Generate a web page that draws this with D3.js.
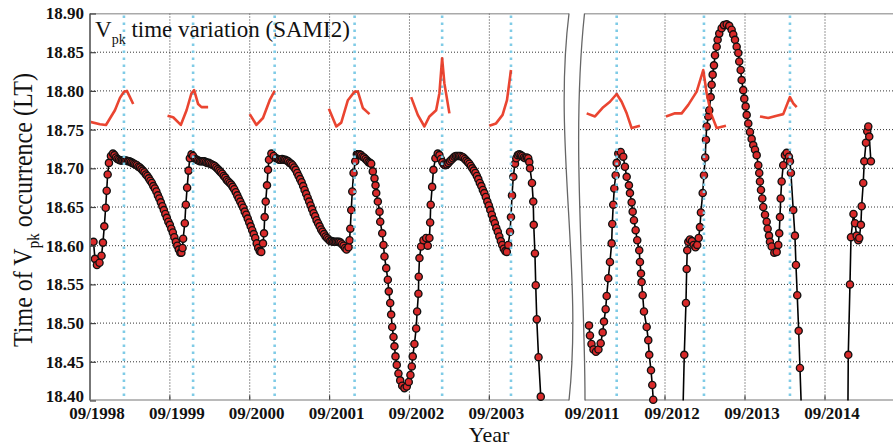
<!DOCTYPE html>
<html>
<head>
<meta charset="utf-8">
<script src="https://cdn.jsdelivr.net/npm/d3@7/dist/d3.min.js"></script>
<style>
body { margin: 0; background: #fff; }
svg text { font-family: "Liberation Serif", "Times New Roman", serif; fill: #111; }
</style>
</head>
<body>
<div id="chart"></div>
<script>
// ---- data ----
var yTickValues = [18.40, 18.45, 18.50, 18.55, 18.60, 18.65, 18.70, 18.75, 18.80, 18.85, 18.90];
var leftTickYears = [1998.667, 1999.667, 2000.667, 2001.667, 2002.667, 2003.667];
var leftTickLabels = ["09/1998", "09/1999", "09/2000", "09/2001", "09/2002", "09/2003"];
var rightTickYears = [2011.667, 2012.667, 2013.667, 2014.667];
var rightTickLabels = ["09/2011", "09/2012", "09/2013", "09/2014"];

// dotted blue markers (event dates)
var eventYears = [1999.092, 1999.958, 2000.979, 2001.980, 2003.076, 2003.938, 2012.063, 2013.154, 2014.229];

// SAMI2 Vpk time, [decimal year, LT]
var vpk1998to2004 = [
  [1998.711,18.605],[1998.729,18.583],[1998.754,18.575],[1998.786,18.578],[1998.811,18.587],[1998.829,18.604],
  [1998.846,18.625],[1998.863,18.649],[1998.876,18.671],[1998.888,18.692],[1998.904,18.707],[1998.929,18.716],
  [1998.954,18.719],[1998.973,18.717],[1998.992,18.714],[1999.010,18.712],[1999.029,18.711],[1999.048,18.710],
  [1999.067,18.710],[1999.085,18.710],[1999.104,18.710],[1999.123,18.710],[1999.142,18.709],[1999.160,18.709],
  [1999.179,18.708],[1999.198,18.707],[1999.217,18.706],[1999.235,18.705],[1999.254,18.704],[1999.273,18.702],
  [1999.292,18.701],[1999.310,18.699],[1999.329,18.697],[1999.348,18.695],[1999.367,18.692],[1999.385,18.690],
  [1999.404,18.687],[1999.423,18.684],[1999.442,18.681],[1999.460,18.677],[1999.479,18.674],[1999.498,18.670],
  [1999.517,18.665],[1999.535,18.661],[1999.554,18.656],[1999.573,18.651],[1999.592,18.646],[1999.610,18.641],
  [1999.629,18.636],[1999.648,18.631],[1999.667,18.627],[1999.685,18.622],[1999.704,18.617],[1999.723,18.611],
  [1999.742,18.605],[1999.760,18.600],[1999.779,18.595],[1999.798,18.591],[1999.811,18.591],[1999.826,18.597],
  [1999.833,18.609],[1999.854,18.629],[1999.867,18.653],[1999.883,18.675],[1999.901,18.697],[1999.917,18.713],
  [1999.938,18.718],[1999.958,18.716],[1999.986,18.712],[2000.004,18.711],[2000.023,18.710],[2000.042,18.709],
  [2000.061,18.709],[2000.079,18.709],[2000.098,18.709],[2000.117,18.708],[2000.136,18.707],[2000.154,18.707],
  [2000.173,18.706],[2000.192,18.705],[2000.211,18.704],[2000.229,18.703],[2000.248,18.701],[2000.267,18.699],
  [2000.286,18.697],[2000.304,18.695],[2000.323,18.693],[2000.342,18.690],[2000.361,18.688],[2000.379,18.685],
  [2000.398,18.683],[2000.417,18.681],[2000.436,18.679],[2000.454,18.676],[2000.473,18.673],[2000.492,18.669],
  [2000.511,18.665],[2000.529,18.661],[2000.548,18.657],[2000.567,18.653],[2000.586,18.649],[2000.604,18.644],
  [2000.623,18.640],[2000.642,18.635],[2000.661,18.630],[2000.679,18.625],[2000.698,18.620],[2000.717,18.615],
  [2000.736,18.610],[2000.754,18.603],[2000.773,18.597],[2000.792,18.593],[2000.811,18.592],
  [2000.833,18.603],[2000.846,18.616],[2000.854,18.637],[2000.867,18.657],[2000.883,18.678],[2000.896,18.698],
  [2000.908,18.711],[2000.938,18.719],[2000.967,18.716],[2000.998,18.713],[2001.017,18.712],[2001.036,18.711],
  [2001.054,18.711],[2001.073,18.712],[2001.092,18.711],[2001.111,18.711],[2001.129,18.710],[2001.148,18.709],
  [2001.167,18.707],[2001.186,18.706],[2001.204,18.704],[2001.223,18.701],[2001.242,18.698],[2001.261,18.694],
  [2001.279,18.690],[2001.298,18.686],[2001.317,18.682],[2001.336,18.677],[2001.354,18.672],[2001.373,18.667],
  [2001.392,18.662],[2001.411,18.657],[2001.429,18.652],[2001.448,18.647],[2001.467,18.642],[2001.486,18.638],
  [2001.504,18.633],[2001.523,18.629],[2001.542,18.625],[2001.561,18.621],[2001.579,18.618],[2001.598,18.615],
  [2001.617,18.612],[2001.636,18.610],[2001.654,18.608],[2001.673,18.606],[2001.692,18.606],[2001.711,18.605],
  [2001.729,18.605],[2001.748,18.605],[2001.767,18.605],[2001.786,18.605],[2001.804,18.604],[2001.823,18.602],
  [2001.842,18.600],[2001.861,18.597],[2001.879,18.595],[2001.904,18.598],[2001.917,18.607],
  [2001.926,18.622],[2001.938,18.646],[2001.951,18.670],[2001.967,18.694],[2001.988,18.709],[2002.008,18.718],
  [2002.023,18.718],[2002.042,18.718],[2002.061,18.717],[2002.079,18.715],[2002.098,18.714],[2002.117,18.712],
  [2002.136,18.710],[2002.154,18.708],[2002.173,18.707],[2002.188,18.706],[2002.208,18.696],[2002.229,18.687],
  [2002.242,18.678],[2002.251,18.668],[2002.271,18.657],[2002.292,18.644],[2002.301,18.631],[2002.326,18.616],
  [2002.342,18.601],[2002.354,18.586],[2002.376,18.571],[2002.396,18.556],[2002.408,18.541],[2002.426,18.526],
  [2002.438,18.511],[2002.451,18.495],[2002.467,18.482],[2002.479,18.470],[2002.492,18.457],[2002.508,18.446],
  [2002.529,18.435],[2002.551,18.426],[2002.576,18.419],[2002.604,18.416],[2002.633,18.418],[2002.658,18.424],
  [2002.679,18.433],[2002.696,18.444],[2002.708,18.457],[2002.729,18.473],[2002.751,18.493],[2002.763,18.515],
  [2002.779,18.538],[2002.783,18.560],[2002.792,18.584],[2002.813,18.599],[2002.842,18.607],[2002.876,18.610],
  [2002.896,18.600],[2002.917,18.610],[2002.926,18.630],[2002.933,18.653],[2002.951,18.676],[2002.967,18.698],
  [2002.992,18.713],[2003.021,18.719],[2003.042,18.717],[2003.061,18.712],[2003.079,18.708],[2003.098,18.705],
  [2003.117,18.704],[2003.136,18.705],[2003.154,18.707],[2003.173,18.709],[2003.192,18.711],[2003.211,18.713],
  [2003.229,18.715],[2003.248,18.716],[2003.267,18.716],[2003.286,18.716],[2003.304,18.716],[2003.323,18.715],
  [2003.342,18.714],[2003.361,18.712],[2003.379,18.710],[2003.398,18.708],[2003.417,18.706],[2003.436,18.703],
  [2003.454,18.700],[2003.473,18.697],[2003.492,18.694],[2003.511,18.690],[2003.529,18.686],[2003.548,18.681],
  [2003.567,18.677],[2003.586,18.672],[2003.604,18.668],[2003.623,18.663],[2003.642,18.657],[2003.661,18.652],
  [2003.679,18.646],[2003.698,18.640],[2003.717,18.634],[2003.736,18.629],[2003.754,18.623],[2003.773,18.618],
  [2003.792,18.612],[2003.811,18.606],[2003.829,18.601],[2003.848,18.596],[2003.867,18.593],[2003.886,18.592],
  [2003.904,18.601],[2003.926,18.618],[2003.938,18.637],[2003.951,18.665],[2003.967,18.689],[2003.988,18.706],
  [2004.004,18.713],[2004.023,18.717],[2004.042,18.718],[2004.061,18.717],[2004.079,18.716],[2004.098,18.714],
  [2004.117,18.713],[2004.136,18.714],[2004.154,18.713],[2004.167,18.708],[2004.176,18.700],[2004.201,18.681],
  [2004.217,18.657],[2004.223,18.627],[2004.238,18.590],[2004.248,18.549],[2004.261,18.505],[2004.283,18.456],
  [2004.311,18.405],[2004.342,18.340]
];

var vpk2011to2015 = [
  [2011.717,18.497],[2011.729,18.484],[2011.748,18.473],[2011.773,18.466],[2011.804,18.463],[2011.835,18.466],
  [2011.863,18.474],[2011.888,18.488],[2011.904,18.502],[2011.925,18.518],[2011.938,18.535],[2011.958,18.558],
  [2011.979,18.579],[2012.000,18.603],[2012.008,18.628],[2012.020,18.653],[2012.033,18.674],[2012.050,18.691],
  [2012.063,18.707],[2012.083,18.719],[2012.113,18.721],[2012.145,18.715],[2012.166,18.702],[2012.188,18.689],
  [2012.216,18.678],[2012.229,18.668],[2012.250,18.656],[2012.263,18.644],[2012.279,18.633],[2012.300,18.620],
  [2012.320,18.607],[2012.345,18.594],[2012.354,18.579],[2012.367,18.564],[2012.375,18.553],[2012.388,18.536],
  [2012.404,18.515],[2012.438,18.495],[2012.458,18.478],[2012.470,18.459],[2012.492,18.439],[2012.508,18.420],
  [2012.520,18.401],[2012.554,18.330],[2012.704,18.050],[2012.804,18.000],[2012.908,18.459],[2012.929,18.526],
  [2012.938,18.570],[2012.945,18.594],[2012.958,18.605],[2012.979,18.608],[2013.004,18.606],[2013.025,18.601],
  [2013.048,18.598],[2013.070,18.601],[2013.088,18.610],[2013.104,18.624],[2013.116,18.643],[2013.138,18.668],
  [2013.154,18.691],[2013.170,18.714],[2013.179,18.737],[2013.188,18.754],[2013.208,18.767],[2013.220,18.775],
  [2013.238,18.792],[2013.250,18.808],[2013.263,18.821],[2013.279,18.833],[2013.292,18.846],[2013.313,18.857],
  [2013.325,18.866],[2013.345,18.874],[2013.375,18.881],[2013.404,18.885],[2013.438,18.886],[2013.470,18.884],
  [2013.500,18.879],[2013.520,18.873],[2013.542,18.866],[2013.563,18.857],[2013.583,18.849],[2013.595,18.838],
  [2013.613,18.827],[2013.625,18.814],[2013.645,18.801],[2013.658,18.790],[2013.675,18.780],[2013.688,18.769],
  [2013.708,18.758],[2013.729,18.747],[2013.750,18.738],[2013.770,18.730],[2013.792,18.724],[2013.813,18.717],
  [2013.833,18.704],[2013.845,18.694],[2013.854,18.683],[2013.867,18.672],[2013.883,18.661],[2013.895,18.650],
  [2013.917,18.640],[2013.938,18.631],[2013.950,18.622],[2013.967,18.613],[2013.979,18.605],[2014.000,18.599],
  [2014.033,18.591],[2014.063,18.592],[2014.083,18.601],[2014.095,18.616],[2014.104,18.637],[2014.113,18.661],
  [2014.125,18.683],[2014.145,18.704],[2014.166,18.717],[2014.188,18.720],[2014.216,18.715],[2014.229,18.709],
  [2014.241,18.694],[2014.270,18.646],[2014.291,18.613],[2014.304,18.575],[2014.320,18.536],[2014.338,18.490],
  [2014.354,18.442],[2014.391,18.330],[2014.666,18.000],[2014.929,18.000],[2014.958,18.459],[2014.979,18.550],
  [2014.992,18.611],[2015.023,18.641],[2015.042,18.629],[2015.063,18.613],[2015.083,18.607],[2015.095,18.610],
  [2015.116,18.627],[2015.125,18.651],[2015.145,18.681],[2015.158,18.709],[2015.179,18.733],[2015.195,18.748],
  [2015.208,18.754],[2015.220,18.741],[2015.241,18.709]
];

// red short curves around each event
var red1999 = [[1998.667,18.760],[1998.792,18.757],[1998.867,18.756],[1998.979,18.775],[1999.042,18.791],[1999.092,18.799],[1999.129,18.800],[1999.167,18.792],[1999.208,18.783]];
var red2000 = [[1999.638,18.768],[1999.708,18.766],[1999.804,18.756],[1999.876,18.775],[1999.938,18.797],[1999.971,18.801],[2000.021,18.783],[2000.063,18.779],[2000.146,18.779]];
var red2001 = [[2000.667,18.770],[2000.751,18.756],[2000.833,18.765],[2000.917,18.788],[2000.979,18.800]];
var red2002 = [[2001.658,18.777],[2001.751,18.754],[2001.813,18.759],[2001.896,18.788],[2001.980,18.799],[2002.021,18.799],[2002.083,18.778],[2002.167,18.770]];
var red2003 = [[2002.688,18.792],[2002.771,18.769],[2002.854,18.754],[2002.917,18.767],[2003.001,18.775],[2003.042,18.797],[2003.076,18.842],[2003.104,18.810],[2003.167,18.771]];
var red2004 = [[2003.667,18.755],[2003.751,18.758],[2003.833,18.769],[2003.888,18.788],[2003.938,18.827]];
var red2012 = [[2011.688,18.771],[2011.792,18.767],[2011.895,18.779],[2011.979,18.786],[2012.063,18.796],[2012.125,18.786],[2012.188,18.771],[2012.250,18.752],[2012.354,18.755]];
var red2013 = [[2012.679,18.767],[2012.792,18.771],[2012.875,18.771],[2012.958,18.782],[2013.063,18.799],[2013.145,18.827],[2013.188,18.797],[2013.242,18.771],[2013.313,18.752],[2013.429,18.755]];
var red2014 = [[2013.854,18.767],[2013.958,18.765],[2014.063,18.768],[2014.145,18.770],[2014.229,18.792],[2014.270,18.784],[2014.313,18.779]];

// ---- layout ----
var width = 893, height = 447;
var plotTop = 13.5, plotBottom = 400.5;
var serif = '"Liberation Serif", "Times New Roman", serif';

var y = d3.scaleLinear().domain([18.40, 18.90]).range([plotBottom, plotTop]);

var panels = [
  {
    id: 'left',
    x: d3.scaleLinear().domain([1998.667, 2004.667]).range([90, 569.2]),
    ticks: leftTickYears, labels: leftTickLabels,
    model: vpk1998to2004,
    reds: [red1999, red2000, red2001, red2002, red2003, red2004],
    clip: 'M90,' + plotTop + ' L569,' + plotTop + ' C553,142 583,272 569,' + plotBottom + ' L90,' + plotBottom + 'Z'
  },
  {
    id: 'right',
    x: d3.scaleLinear().domain([2011.667, 2015.517]).range([585, 893]),
    ticks: rightTickYears, labels: rightTickLabels,
    model: vpk2011to2015,
    reds: [red2012, red2013, red2014],
    clip: 'M584.5,' + plotTop + ' L900,' + plotTop + ' L900,' + plotBottom + ' L585,' + plotBottom + ' C585,272 571,142 584.5,' + plotTop + 'Z'
  }
];

var svg = d3.select('#chart').append('svg')
  .attr('width', width)
  .attr('height', height);

svg.append('rect').attr('width', width).attr('height', height).attr('fill', '#fff');

var defs = svg.append('defs');

panels.forEach(function (p) {
  defs.append('clipPath').attr('id', 'clip-' + p.id)
    .append('path').attr('d', p.clip);

  var r = p.x.range();
  var g = svg.append('g').attr('clip-path', 'url(#clip-' + p.id + ')');

  // horizontal grid
  g.selectAll('line.hgrid')
    .data(yTickValues.slice(1, -1))
    .enter().append('line')
    .attr('class', 'hgrid')
    .attr('x1', r[0] - 20).attr('x2', r[1] + 20)
    .attr('y1', function (d) { return y(d); })
    .attr('y2', function (d) { return y(d); })
    .attr('stroke', '#333').attr('stroke-width', 1)
    .attr('stroke-dasharray', '1,2');

  // vertical grid
  g.selectAll('line.vgrid')
    .data(p.ticks.slice(1))
    .enter().append('line')
    .attr('class', 'vgrid')
    .attr('x1', function (d) { return p.x(d); })
    .attr('x2', function (d) { return p.x(d); })
    .attr('y1', plotTop).attr('y2', plotBottom)
    .attr('stroke', '#333').attr('stroke-width', 1)
    .attr('stroke-dasharray', '1,2');

  // x ticks (inward)
  g.selectAll('line.xtick')
    .data(p.ticks.slice(1))
    .enter().append('line')
    .attr('x1', function (d) { return p.x(d); })
    .attr('x2', function (d) { return p.x(d); })
    .attr('y1', plotBottom).attr('y2', plotBottom - 5)
    .attr('stroke', '#444').attr('stroke-width', 1.2);

  // frame: top and bottom
  g.append('line')
    .attr('x1', r[0] - 20).attr('x2', r[1] + 20)
    .attr('y1', plotTop).attr('y2', plotTop)
    .attr('stroke', '#555').attr('stroke-width', 1.4);
  g.append('line')
    .attr('x1', r[0] - 20).attr('x2', r[1] + 20)
    .attr('y1', plotBottom).attr('y2', plotBottom)
    .attr('stroke', '#777').attr('stroke-width', 2);

  // model line
  var line = d3.line()
    .x(function (d) { return p.x(d[0]); })
    .y(function (d) { return y(d[1]); });

  g.append('path')
    .datum(p.model)
    .attr('d', line)
    .attr('fill', 'none')
    .attr('stroke', '#000')
    .attr('stroke-width', 1.6);

  // markers (only those inside the axis range)
  svg.append('g').selectAll('circle')
    .data(p.model.filter(function (d) { return d[1] >= 18.40 && d[1] <= 18.90; }))
    .enter().append('circle')
    .attr('cx', function (d) { return p.x(d[0]); })
    .attr('cy', function (d) { return y(d[1]); })
    .attr('r', 3.6)
    .attr('fill', '#d92a2a')
    .attr('stroke', '#111')
    .attr('stroke-width', 1.35);

  // event markers + red curves on top
  var gTop = svg.append('g').attr('clip-path', 'url(#clip-' + p.id + ')');
  gTop.selectAll('line.event')
    .data(eventYears.filter(function (d) { return d >= p.x.domain()[0] && d <= p.x.domain()[1]; }))
    .enter().append('line')
    .attr('class', 'event')
    .attr('x1', function (d) { return p.x(d); })
    .attr('x2', function (d) { return p.x(d); })
    .attr('y1', plotTop + 2).attr('y2', plotBottom)
    .attr('stroke', '#7fcbe6')
    .attr('stroke-width', 2.6)
    .attr('stroke-dasharray', '2.4,4.6');

  gTop.selectAll('path.red')
    .data(p.reds)
    .enter().append('path')
    .attr('class', 'red')
    .attr('d', line)
    .attr('fill', 'none')
    .attr('stroke', '#e8351f')
    .attr('stroke-width', 2.6)
    .attr('stroke-linejoin', 'round')
    .attr('stroke-opacity', 0.92);

  // x tick labels
  var xAxis = d3.axisBottom(p.x)
    .tickValues(p.ticks)
    .tickSize(0)
    .tickPadding(6)
    .tickFormat(function (d, i) { return p.labels[i]; });

  var ax = svg.append('g')
    .attr('transform', 'translate(0,' + plotBottom + ')')
    .attr('font-family', serif)
    .call(xAxis);
  ax.select('.domain').remove();
  ax.selectAll('text')
    .attr('dx', 6.5)
    .style('font-family', serif)
    .style('font-weight', 'bold')
    .style('font-size', '17px')
    .attr('fill', '#111');
});

// left axis line + y ticks
svg.append('line')
  .attr('x1', 90).attr('x2', 90)
  .attr('y1', plotTop).attr('y2', plotBottom)
  .attr('stroke', '#777').attr('stroke-width', 2);

var yAxis = d3.axisLeft(y)
  .tickValues(yTickValues)
  .tickSizeInner(-6)
  .tickSizeOuter(0)
  .tickPadding(6)
  .tickFormat(d3.format('.2f'));

var ay = svg.append('g')
  .attr('transform', 'translate(90,0)')
  .attr('font-family', serif)
  .call(yAxis);
ay.select('.domain').remove();
ay.selectAll('line').attr('stroke', '#444').attr('stroke-width', 1.2);
ay.selectAll('text')
  .style('font-family', serif)
  .style('font-weight', 'bold')
  .style('font-size', '17px')
  .attr('fill', '#111')
  .attr('dy', function (d) { return d === 18.40 ? '0.05em' : '0.32em'; });

// axis break lines
var breaks = [
  'M569,' + plotTop + ' C553,142 583,272 569,' + plotBottom,
  'M584.5,' + plotTop + ' C571,142 585,272 585,' + plotBottom
];
svg.selectAll('path.break')
  .data(breaks)
  .enter().append('path')
  .attr('class', 'break')
  .attr('d', function (d) { return d; })
  .attr('fill', 'none')
  .attr('stroke', '#666')
  .attr('stroke-width', 1.3);

// title
var title = svg.append('text')
  .attr('x', 95).attr('y', 37)
  .style('font-size', '23px');
title.append('tspan').text('V');
title.append('tspan').attr('dy', 7).style('font-size', '14px').text('pk');
title.append('tspan').attr('dy', -7).text(' time variation (SAMI2)');

// y label
var ylab = svg.append('text')
  .attr('transform', 'translate(32,210) rotate(-90) scale(1,1.15)')
  .attr('text-anchor', 'middle')
  .style('font-size', '24px');
ylab.append('tspan').text('Time of V');
ylab.append('tspan').attr('dy', 6).style('font-size', '15px').text('pk');
ylab.append('tspan').attr('dy', -6).text(' occurrence (LT)');

// x label
svg.append('text')
  .attr('x', 489).attr('y', 442)
  .attr('text-anchor', 'middle')
  .style('font-size', '22px')
  .text('Year');
</script>
</body>
</html>
